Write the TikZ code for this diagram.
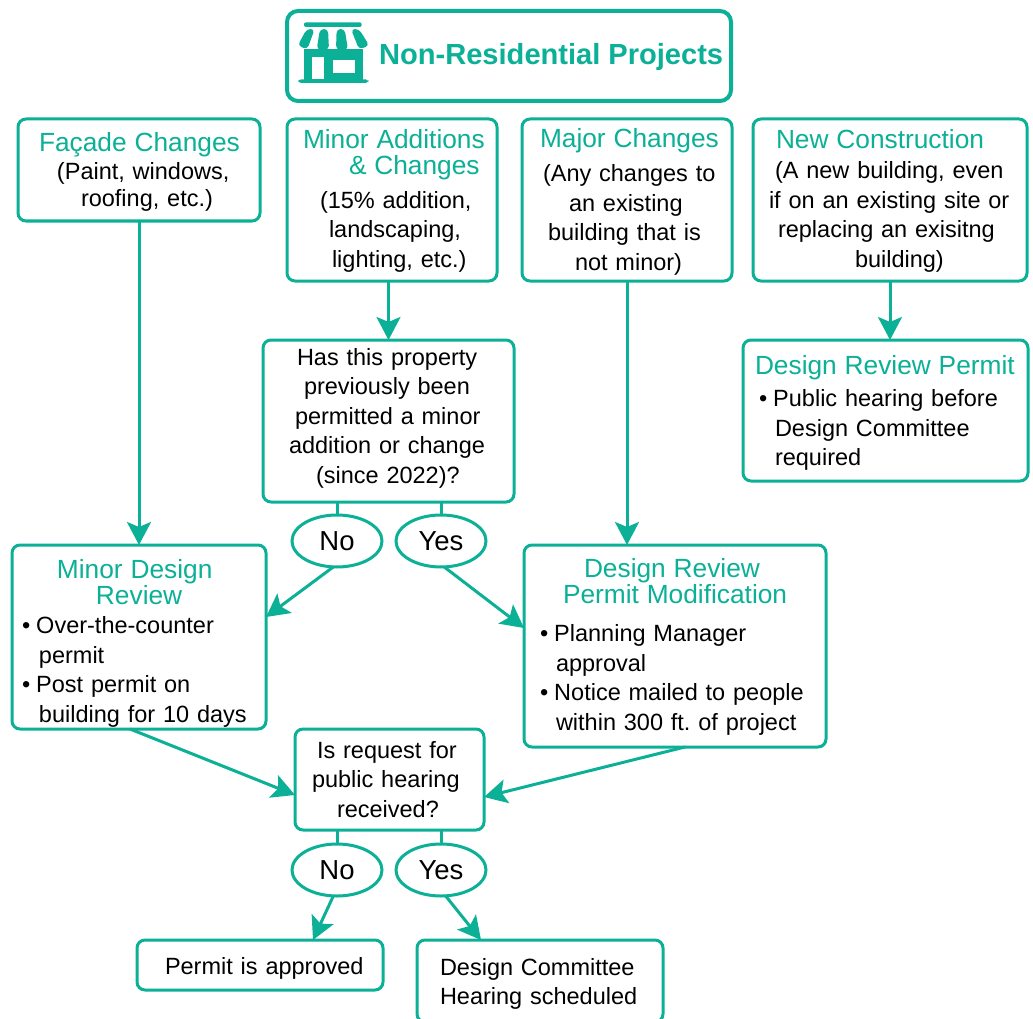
\documentclass[tikz,border=0pt]{standalone}
\usepackage{fontspec}
\setmainfont{Liberation Sans}
\usetikzlibrary{arrows.meta,shapes.geometric}
\definecolor{tealc}{HTML}{0BB096}
\newcommand{\Ln}[2]{\hspace*{#1pt}#2}
\newcommand{\Hd}[2]{\hspace*{#1pt}{\fontsize{26.3}{26}\selectfont\color{tealc}#2}}
\newcommand{\Sh}[1]{\rule{0pt}{#1pt}}
\newcommand{\Dp}[1]{\rule[-#1pt]{0pt}{0pt}}
\newcommand{\Bu}{•\hspace{6pt}}
\tikzset{
  stepbox/.style={draw=tealc,line width=3pt,rounded corners=8pt,fill=white,inner sep=0pt,outer sep=0pt,
    align=left,font=\fontsize{23.5}{29.5}\selectfont\frenchspacing,text=black},
  choice/.style={draw=tealc,line width=3pt,ellipse,fill=white,inner sep=0pt,outer sep=0pt,
    minimum width=90pt,minimum height=52pt,font=\fontsize{27.5}{27.5}\selectfont,text=black},
  flow/.style={draw=tealc,line width=3pt,-{Stealth[length=23pt,width=24pt,inset=5pt]}},
  stem/.style={draw=tealc,line width=3pt},
}
\begin{document}
\begin{tikzpicture}[x=1pt,y=-1pt]
\useasboundingbox (0,0) rectangle (1033,1019);
% title
\node[stepbox,line width=4pt,rounded corners=11pt,text width=444pt,minimum height=90pt] (title) at (509,56)
  {\Sh{24}\Ln{92}{\fontsize{29.1}{30}\selectfont\bfseries\color{tealc}Non-Residential Projects}};
% shop icon
\begin{scope}[shift={(290,15)},x=0.3333pt,y=-0.3333pt]
\fill[tealc,rounded corners=2pt] (42,22) rectangle (215,36);
\fill[tealc] (42,100) -- (218,100) -- (218,200) -- (42,200) -- cycle;
\fill[white] (42,92) rectangle (218,102);
\fill[tealc,rounded corners=4pt] (50,42) -- (74,42) -- (52,103) -- (23,92) -- cycle;
\fill[tealc,rounded corners=4pt] (90,42) -- (114,42) -- (117,104) -- (80,104) -- cycle;
\fill[tealc,rounded corners=4pt] (140,42) -- (164,42) -- (174,104) -- (138,104) -- cycle;
\fill[tealc,rounded corners=4pt] (183,42) -- (207,42) -- (238,92) -- (207,103) -- cycle;
\fill[white] (65,125) rectangle (103,193);
\fill[white] (128,135) rectangle (195,175);
\fill[tealc,rounded corners=3pt] (25,193) rectangle (235,204);
\end{scope}
% boxes
\node[stepbox,text width=242pt,minimum height=102pt] (fac) at (139,170)
  {\Sh{22.5}\Hd{21}{Façade Changes}\\[-1pt] \Ln{39}{(Paint, windows,}\\[-2.5pt] \Ln{63}{roofing, etc.)}};
\node[stepbox,text width=210pt,minimum height=162pt] (min) at (392,200)
  {\Sh{20.5}\Hd{16}{Minor Additions}\\[-3.5pt] \Hd{62}{\& Changes}\\[4pt] \Ln{33}{(15\% addition,}\\ \Ln{42}{landscaping,}\\ \Ln{45}{lighting, etc.)}};
\node[stepbox,text width=210pt,minimum height=162pt] (maj) at (627,200)
  {\Sh{22.5}\Hd{18}{Major Changes}\\[5pt] \Ln{21}{(Any changes to}\\ \Ln{47}{an existing}\\ \Ln{26}{building that is}\\ \Ln{53}{not minor)}};
\node[stepbox,text width=274pt,minimum height=162pt] (new) at (890,200)
  {\Sh{20.5}\Hd{23}{New Construction}\\[1pt] \Ln{22}{(A new building, even}\\ \Ln{16}{if on an existing site or}\\ \Ln{25}{replacing an exisitng}\\ \Ln{102}{building)}};
\node[stepbox,text width=251pt,minimum height=162pt] (has) at (388.5,421)
  {\Ln{34}{Has this property}\\ \Ln{41}{previously been}\\ \Ln{32}{permitted a minor}\\ \Ln{26}{addition or change}\\ \Ln{53}{(since 2022)?\Dp{11}}};
\node[stepbox,text width=285pt,minimum height=141pt] (drp) at (885.5,410.5)
  {\Sh{23.5}\Hd{12}{Design Review Permit}\\[3pt] \Ln{16}{\Bu Public hearing before}\\ \Ln{32}{Design Committee}\\ \Ln{32}{required}};
\node[stepbox,text width=254pt,minimum height=184pt] (mdr) at (139,637)
  {\Sh{31.5}\Hd{45}{Minor Design}\\[-3.5pt] \Hd{84}{Review}\\ \Ln{10}{\Bu Over-the-counter}\\ \Ln{27}{permit}\\ \Ln{10}{\Bu Post permit on}\\ \Ln{27}{building for 10 days}};
\node[stepbox,text width=302pt,minimum height=202pt] (drm) at (675,646)
  {\Sh{20.5}\Hd{60}{Design Review}\\[-3.5pt] \Hd{39}{Permit Modification}\\[9pt] \Ln{16}{\Bu Planning Manager}\\ \Ln{32}{approval}\\ \Ln{16}{\Bu Notice mailed to people}\\ \Ln{32}{within 300 ft. of project}};
\node[stepbox,text width=189pt,minimum height=101pt] (req) at (389.5,779.5)
  {\Ln{22}{Is request for}\\ \Ln{17}{public hearing}\\ \Ln{42}{received?}};
\node[stepbox,text width=246pt,minimum height=50pt] (ok) at (260,965)
  {\Sh{24}\Ln{28}{Permit is approved}};
\node[stepbox,text width=246pt,minimum height=82pt] (hear) at (540,981)
  {\Sh{22.5}\Ln{23}{Design Committee}\\ \Ln{23}{Hearing scheduled}};
% choices
\node[choice] (no1) at (337,541) {No};
\node[choice] (yes1) at (441,541) {Yes};
\node[choice] (no2) at (337,870) {No};
\node[choice] (yes2) at (441,870) {Yes};
% free ends
\coordinate (mdrIn) at (266,617);
\coordinate (drmIn) at (524,628);
\coordinate (reqInL) at (295,795);
\coordinate (reqInR) at (484,797);
\coordinate (mdrOut) at (130,729);
\coordinate (drmOut) at (685,747);
\coordinate (okIn) at (313,940);
\coordinate (hearIn) at (481,940);
% connectors
\draw[flow] (fac.south) -- (fac.south |- mdr.north);
\draw[flow] (min.south -| has.north) -- (has.north);
\draw[flow] (maj.south) -- (maj.south |- drm.north);
\draw[flow] (new.south) -- (new.south |- drp.north);
\draw[stem] (no1.north |- has.south) -- (no1.north);
\draw[stem] (yes1.north |- has.south) -- (yes1.north);
\draw[flow] (no1.262) -- (mdrIn);
\draw[flow] (yes1.277) -- (drmIn);
\draw[flow] (mdrOut) -- (reqInL);
\draw[flow] (drmOut) -- (reqInR);
\draw[stem] (no2.north |- req.south) -- (no2.north);
\draw[stem] (yes2.north |- req.south) -- (yes2.north);
\draw[flow] (no2.262) -- (okIn);
\draw[flow] (yes2.280) -- (hearIn);
\end{tikzpicture}
\end{document}
